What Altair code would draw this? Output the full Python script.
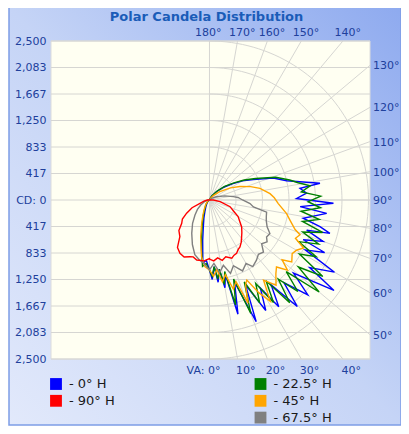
import math
import altair as alt
import pandas as pd

TITLE = "Polar Candela Distribution"
SERIES = ["0° H", "22.5° H", "45° H", "67.5° H", "90° H"]
COLORS = ["#0000ff", "#008000", "#ffa500", "#808080", "#ff0000"]

# ---- candela readings: right half = plane H, left half = plane H+180 (vertical angle in deg, cd)
B_R_VA = [0, 2, 4, 6, 8, 10, 12, 14, 17, 21, 23, 27, 30, 33, 36, 39.5, 42, 46, 49, 54, 56, 60, 62.5, 65.5, 67, 70, 72.8, 74.5, 76.4, 79, 83.5, 85.8, 88.5, 91, 94, 97.4, 98.6, 102, 104, 109, 115, 120, 125, 132, 140, 150, 160, 170, 180]
B_R_CD = [1100, 1250, 1050, 1300, 1100, 1400, 1200, 1850, 1350, 2050, 1450, 1950, 1600, 2000, 1650, 2170, 1750, 2150, 1750, 2420, 1900, 2270, 1700, 1990, 1600, 1900, 1600, 1965, 1787, 1500, 1855, 1430, 1950, 1370, 1530, 1435, 1757, 1400, 1250, 1060, 760, 600, 450, 300, 170, 70, 20, 0, 0]
B_L_VA = [0, 3, 6, 9.6, 13, 17, 22, 30, 40, 55, 70, 90, 180]
B_L_CD = [1100, 950, 1000, 640, 430, 300, 190, 110, 60, 25, 10, 0, 0]

G_R_VA = [0, 2, 4, 6, 8, 10, 12, 14, 17, 20, 23, 26, 29, 32, 35, 38, 41, 44, 47, 50, 53, 56, 59, 62, 65, 68, 71, 74, 77, 80, 83, 86, 89, 92, 95, 98, 101, 104, 109, 115, 120, 125, 132, 140, 150, 160, 170, 180]
G_R_CD = [1100, 1200, 1050, 1250, 1100, 1350, 1150, 1700, 1300, 1900, 1400, 1800, 1500, 1900, 1550, 2050, 1650, 2000, 1650, 2250, 1750, 2150, 1650, 1900, 1550, 1850, 1550, 1850, 1500, 1750, 1450, 1750, 1550, 1750, 1450, 1600, 1420, 1300, 1100, 800, 630, 470, 320, 180, 80, 25, 0, 0]
G_L_VA = [0, 3, 6, 9, 12, 16, 21, 28, 38, 50, 70, 90, 180]
G_L_CD = [1100, 1000, 1050, 800, 600, 420, 280, 160, 90, 40, 15, 0, 0]

O_R_VA = [0, 3, 6, 9, 12, 15, 18, 20.5, 23, 25, 28, 31, 34, 38, 42, 45, 48, 50.5, 53, 57, 60, 63, 66, 69, 71, 76, 80, 87, 92, 96, 103, 108, 114, 120, 130, 140, 150, 160, 180]
O_R_CD = [1100, 1200, 1100, 1300, 1200, 1450, 1350, 1730, 1450, 1390, 1650, 1860, 1520, 1700, 1560, 1490, 1650, 1480, 1620, 1550, 1580, 1660, 1480, 1525, 1424, 1304, 1231, 1083, 1020, 957, 815, 680, 523, 380, 200, 90, 30, 0, 0]
O_L_VA = [0, 4, 8, 13.5, 18.5, 24, 30, 38, 48, 60, 75, 90, 180]
O_L_CD = [1100, 1050, 900, 593, 386, 250, 160, 100, 55, 25, 10, 0, 0]

Y_R_VA = [0, 4, 8, 12, 16, 20, 25, 30, 33, 38, 42, 46, 50, 54, 57, 61, 65, 70, 74, 78, 81, 85, 90, 95, 98, 105, 115, 125, 140, 180]
Y_R_CD = [1100, 1000, 1150, 1050, 1200, 1100, 1230, 1150, 1250, 1200, 1150, 1180, 1070, 1120, 1070, 1086, 1000, 950, 930, 918, 700, 640, 520, 450, 378, 250, 120, 50, 0, 0]
Y_L_VA = [0, 5, 10, 15, 21, 28, 36, 44, 52, 60, 70, 80, 90, 180]
Y_L_CD = [1100, 1000, 950, 890, 750, 594, 452, 328, 240, 160, 90, 40, 10, 0]

R_R_VA = [0, 4, 8, 12, 16, 21, 24, 27, 30, 33, 37, 41, 45, 50, 55, 60, 65, 72, 81, 90, 100, 180]
R_R_CD = [930, 960, 920, 970, 930, 980, 950, 940, 900, 880, 830, 770, 720, 660, 580, 520, 420, 340, 170, 60, 10, 0]
R_L_VA = [0, 5, 12, 16, 19, 24, 29, 34, 39, 45, 50, 55, 60, 66, 71, 80, 90, 100, 180]
R_L_CD = [920, 960, 964, 930, 943, 980, 958, 900, 740, 680, 570, 520, 415, 300, 158, 80, 30, 5, 0]

CURVES = [
    (B_R_VA, B_R_CD, B_L_VA, B_L_CD),
    (G_R_VA, G_R_CD, G_L_VA, G_L_CD),
    (O_R_VA, O_R_CD, O_L_VA, O_L_CD),
    (Y_R_VA, Y_R_CD, Y_L_VA, Y_L_CD),
    (R_R_VA, R_R_CD, R_L_VA, R_L_CD),
]

CD_MAX = 2500
RING_COUNT = 6
TOP_VA = [180, 170, 160, 150, 140]
RIGHT_VA = [130, 120, 110, 100, 90, 80, 70, 60, 50]
BOTTOM_VA = [0, 10, 20, 30, 40]
LEGEND_COLS = [["0° H", "90° H"], ["22.5° H", "45° H", "67.5° H"]]

# ---- layout
W, H = 319, 318
X_MIN, X_MAX = -2492, 2524
PXX = (X_MAX - X_MIN) / W          # cd per px horizontally
PXY = 2 * CD_MAX / H               # cd per px vertically
FONT = "DejaVu Sans"
LABEL_COLOR = "#20409c"
GRID = "#d6d6d2"

def to_x(px):
    return X_MIN + px * PXX

def to_y(py):
    return CD_MAX - py * PXY

step = CD_MAX / RING_COUNT
ticks = [k * step for k in range(-RING_COUNT, RING_COUNT + 1)]

xs = alt.Scale(domain=[X_MIN, X_MAX], nice=False, zero=False)
ys = alt.Scale(domain=[-CD_MAX, CD_MAX], nice=False, zero=False)
YAXIS = alt.Axis(
    values=ticks, grid=False, ticks=False, domain=False, labelPadding=5, zindex=5,
    labelFont=FONT, labelFontSize=11, labelColor=LABEL_COLOR,
    labelExpr="datum.value == 0 ? 'CD: 0' : format(abs(datum.value), ',.0f')",
    title=None)
X = lambda f="px": alt.X(f"{f}:Q", scale=xs, axis=None)
Y = lambda f="py": alt.Y(f"{f}:Q", scale=ys, axis=YAXIS)

def polar(ch):
    return ch.transform_calculate(
        px="datum.side * datum.cd * sin(datum.va * PI / 180)",
        py="-datum.cd * cos(datum.va * PI / 180)",
    )

one = pd.DataFrame({"a": [0]})

# background panel with gradient
bg = alt.Chart(one).mark_rect(
    fill={"gradient": "linear", "x1": 0, "y1": 1, "x2": 1, "y2": 0,
          "stops": [{"offset": 0, "color": "#e2e9fb"},
                    {"offset": 0.5, "color": "#c5d4f6"},
                    {"offset": 1, "color": "#8eaaef"}]},
    stroke="#7d9de6", strokeWidth=1.5,
).encode(x=alt.value(-42), x2=alt.value(350), y=alt.value(-34), y2=alt.value(384))

plot_bg = alt.Chart(one).mark_rect(fill="#fffff2", stroke="#dcdcdc", strokeWidth=1).encode(
    x=alt.value(0), x2=alt.value(W), y=alt.value(0), y2=alt.value(H))

# horizontal grid + left axis labels
hrules = alt.Chart(pd.DataFrame({"v": ticks})).mark_rule(color=GRID, strokeWidth=1).encode(
    y=Y("v"), x=alt.value(0), x2=alt.value(W))

# arcs
arc_rows = [dict(ring=k, va=a, cd=k * step, side=1)
            for k in range(1, RING_COUNT + 1) for a in range(0, 181, 2)]
arcs = polar(alt.Chart(pd.DataFrame(arc_rows))).mark_line(color=GRID, strokeWidth=1).encode(
    x=X(), y=Y(), detail="ring:N", order="va:Q")

# radial lines
rad_rows = []
for a in range(0, 181, 10):
    rad_rows += [dict(va=a, cd=0, side=1, o=0), dict(va=a, cd=6000, side=1, o=1)]
radials = polar(alt.Chart(pd.DataFrame(rad_rows))).mark_line(color=GRID, strokeWidth=1, clip=True).encode(
    x=X(), y=Y(), detail="va:N", order="o:Q")

# curves
rows = []
for name, (rva, rcd, lva, lcd) in zip(SERIES, CURVES):
    i = 0
    for va, cd in reversed(list(zip(lva, lcd))):
        rows.append(dict(series=name, i=i, va=va, cd=cd, side=-1)); i += 1
    for va, cd in zip(rva, rcd):
        rows.append(dict(series=name, i=i, va=va, cd=cd, side=1)); i += 1
curves = polar(alt.Chart(pd.DataFrame(rows))).mark_line(strokeWidth=1.4).encode(
    x=X(), y=Y(),
    color=alt.Color("series:N", scale=alt.Scale(domain=SERIES, range=COLORS), legend=None),
    order="i:Q")

# angle labels
top = pd.DataFrame({
    "t": [f"{v}°" for v in TOP_VA],
    "lx": [CD_MAX * math.tan(math.radians(180 - v)) + (12 if v == 180 else 18) * PXX for v in TOP_VA],
    "ly": [CD_MAX + 8 * PXY for v in TOP_VA]})
bottom = pd.DataFrame({
    "t": [("VA: " if v == 0 else "") + f"{v}°" for v in BOTTOM_VA],
    "lx": [CD_MAX * math.tan(math.radians(v)) + (11 if v == 0 else 18) * PXX for v in BOTTOM_VA],
    "ly": [-CD_MAX - 11.5 * PXY for v in BOTTOM_VA]})
tb = pd.concat([top, bottom])
tb_text = alt.Chart(tb).mark_text(align="right", baseline="middle", font=FONT, fontSize=11,
                                  color=LABEL_COLOR).encode(x=X("lx"), y=Y("ly"), text="t:N")
right = pd.DataFrame({
    "t": [f"{v}°" for v in RIGHT_VA],
    "lx": [X_MAX + 3 * PXX for v in RIGHT_VA],
    "ly": [-X_MAX * math.cos(math.radians(v)) / math.sin(math.radians(v)) - 1 * PXY for v in RIGHT_VA]})
r_text = alt.Chart(right).mark_text(align="left", baseline="middle", font=FONT, fontSize=11,
                                    color=LABEL_COLOR).encode(x=X("lx"), y=Y("ly"), text="t:N")

title = alt.Chart(pd.DataFrame({"t": [TITLE], "lx": [to_x(155.5)], "ly": [to_y(-24)]})).mark_text(
    align="center", baseline="middle", font=FONT, fontSize=13, fontWeight="bold", color="#1a5cb8"
).encode(x=X("lx"), y=Y("ly"), text="t:N")

# legend
leg_rows = []
col_x = [5, 209.5]
for c, names in enumerate(LEGEND_COLS):
    for r, n in enumerate(names):
        leg_rows.append(dict(name=n, t=f"- {n}", sx=to_x(col_x[c]), tx=to_x(col_x[c] + 13),
                             ly=to_y(343 + r * 16.8)))
leg = pd.DataFrame(leg_rows)
leg_sq = alt.Chart(leg).mark_square(size=140, opacity=1, filled=True).encode(
    x=X("sx"), y=Y("ly"),
    color=alt.Color("name:N", scale=alt.Scale(domain=SERIES, range=COLORS), legend=None))
leg_tx = alt.Chart(leg).mark_text(align="left", baseline="middle", font=FONT, fontSize=13,
                                  color="#1a1a1a").encode(x=X("tx"), y=Y("ly"), text="t:N")

chart = alt.layer(bg, plot_bg, hrules, arcs, radials, curves, tb_text, r_text, title, leg_sq, leg_tx).properties(
    width=W, height=H,
    padding={"left": 43, "top": 33, "right": 31, "bottom": 67},
    autosize=alt.AutoSizeParams(type="none"),
).configure_view(strokeWidth=0)

chart.save("out.html", embed_options={"renderer": "svg", "actions": False})
